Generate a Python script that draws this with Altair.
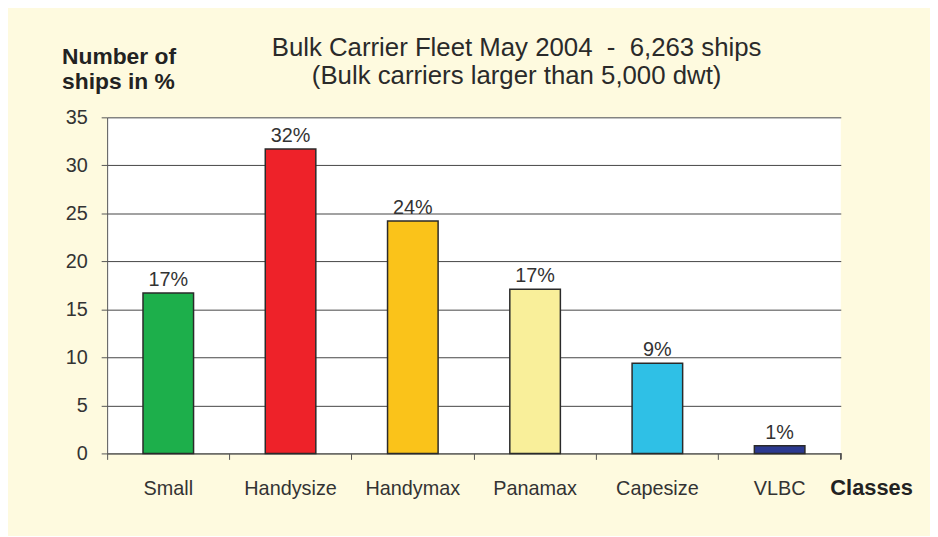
import altair as alt
import pandas as pd

categories = ["Small", "Handysize", "Handymax", "Panamax", "Capesize", "VLBC"]
values = [16.7, 31.7, 24.2, 17.1, 9.4, 0.8]
labels = ["17%", "32%", "24%", "17%", "9%", "1%"]
colors = ["#1DAF4B", "#EE2229", "#FAC31A", "#F9EF9A", "#2FC0E6", "#2B3990"]
y_ticks = [0, 5, 10, 15, 20, 25, 30, 35]

df = pd.DataFrame({"cls": categories, "val": values, "lab": labels})

FONT = "Liberation Sans"
TXT = "#333333"
NB = "\u00a0"

x_enc = alt.X(
    "cls:N",
    sort=categories,
    scale=alt.Scale(paddingInner=0, paddingOuter=0),
    axis=alt.Axis(
        title="Classes",
        titleFont=FONT, titleFontSize=22, titleFontWeight="bold", titleColor="#222222",
        titleAngle=0, titleAlign="left", titleBaseline="alphabetic",
        titleX=729, titleY=41,
        labelFont=FONT, labelFontSize=20, labelColor=TXT, labelAngle=0,
        labelPadding=19,
        bandPosition=0, tickSize=6, tickColor="#555555", domainColor="#555555",
        grid=False,
    ),
)
y_enc = alt.Y(
    "val:Q",
    scale=alt.Scale(domain=[0, 35], nice=False),
    axis=alt.Axis(
        values=y_ticks,
        title=["Number of", "ships in %"],
        titleFont=FONT, titleFontSize=23, titleFontWeight="bold", titleColor="#222222",
        titleAngle=0, titleAlign="left", titleBaseline="alphabetic",
        titleX=-46, titleY=-54, titleLineHeight=25,
        labelFont=FONT, labelFontSize=20, labelColor=TXT, labelPadding=14,
        tickSize=6, tickColor="#555555", domainColor="#555555",
        grid=True, gridColor="#444444", gridWidth=1,
    ),
)

bars = alt.Chart(df).mark_bar(size=51, stroke="#2a2a2a", strokeWidth=1.5).encode(
    x=x_enc,
    y=y_enc,
    color=alt.Color("cls:N", sort=categories,
                    scale=alt.Scale(domain=categories, range=colors), legend=None),
)

text = alt.Chart(df).mark_text(
    font=FONT, fontSize=20, color=TXT, baseline="alphabetic", dy=-7
).encode(
    x=alt.X("cls:N", sort=categories),
    y="val:Q",
    text="lab:N",
)

last_tick = alt.Chart(df).mark_rule(color="#555555", strokeWidth=1).encode(
    x=alt.value(740), y=alt.value(339), y2=alt.value(345)
)

title_lines = [
    "Bulk Carrier Fleet May 2004" + NB + NB + "-" + NB + NB + "6,263 ships",
    "(Bulk carriers larger than 5,000 dwt)",
]

chart = alt.layer(bars, text, last_tick).properties(
    width=740,
    height=339,
    padding={"left": 100, "top": 108, "right": 90, "bottom": 81},
    autosize=alt.AutoSizeParams(type="none"),
    background="#FEFADF",
    title=alt.TitleParams(
        text=title_lines,
        font=FONT, fontSize=26, fontWeight="normal", color="#2a2a2a",
        anchor="middle", dx=43, offset=-43, lineHeight=28,
    ),
).configure_view(fill="white", stroke=None)

chart.save("out.html", embed_options={"renderer": "svg", "actions": False})
